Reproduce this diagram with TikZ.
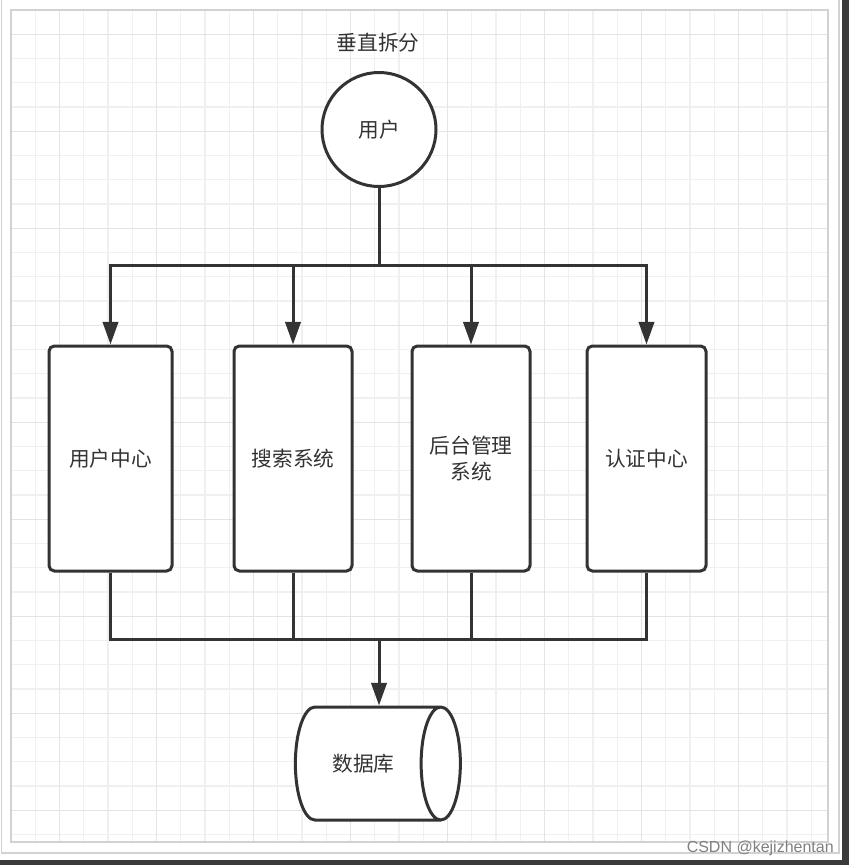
\documentclass[tikz,border=0pt]{standalone}
\usepackage{fontspec}
\setmainfont{Liberation Sans}
\newfontfamily\cjk{Noto Sans CJK SC}
\usetikzlibrary{arrows.meta,shapes.geometric}
\definecolor{linegray}{HTML}{333333}
\definecolor{txtgray}{HTML}{333333}
\definecolor{gridgray}{HTML}{F0F0F0}
\definecolor{gridmajor}{HTML}{E4E4E4}
\definecolor{bordergray}{HTML}{D2D2D2}
\definecolor{darkband}{HTML}{3A3A3A}
\tikzset{
	conn/.style={draw=linegray, line width=2.25pt},
	arr/.style={conn, -{Triangle[length=17pt,width=11.5pt]}},
	sysbox/.style={draw=linegray, line width=2.25pt, fill=white, rounded corners=4pt, minimum height=168.75pt, align=center}
}
\begin{document}
\begin{tikzpicture}[x=0.75pt,y=-0.75pt,every node/.style={font=\cjk\fontsize{15.5}{20}\selectfont, text=txtgray}]
	\useasboundingbox (0,0) rectangle (849,865);
	\fill[white] (0,0) rectangle (849,865);
	\fill[darkband] (842,0) rectangle (849,865);
	\fill[darkband] (0,860) rectangle (849,865);
	\draw[bordergray, line width=1.2pt] (1.5,0) -- (1.5,853) -- (839,853) -- (839,0);
	\foreach \i in {0,...,33}
		\draw[gridgray, line width=1.1pt] ({11+24.25*\i},10) -- ({11+24.25*\i},842);
	\foreach \j in {0,...,34}
		\draw[gridgray, line width=1.1pt] (11,{10+24.25*\j}) -- (828,{10+24.25*\j});
	\foreach \i in {2,6,...,30}
		\draw[gridmajor, line width=1.1pt] ({11+24.25*\i},10) -- ({11+24.25*\i},842);
	\foreach \j in {1,5,...,33}
		\draw[gridmajor, line width=1.1pt] (11,{10+24.25*\j}) -- (828,{10+24.25*\j});
	\draw[bordergray, line width=1.5pt] (11,10) rectangle (828,842);

	\node (title) at (378,43) {垂直拆分};
	\node[circle, draw=linegray, line width=2.25pt, fill=white, minimum size=85.5pt] (user) at (379,129.5) {用户};
	\node[sysbox, minimum width=92.25pt] (ucenter) at (110.5,458.5) {用户中心};
	\node[sysbox, minimum width=88.5pt] (search) at (293,458.5) {搜索系统};
	\node[sysbox, minimum width=88.5pt] (admin) at (471,458.5) {后台管理\\系统};
	\node[sysbox, minimum width=89.25pt] (auth) at (646.5,458.5) {认证中心};
	\node[cylinder, draw=linegray, line width=2.25pt, fill=white, shape aspect=1.4, minimum height=123.75pt, minimum width=84.75pt] (db) at (363.5,763.5) {数据库};

	\coordinate (split) at (379,265);
	\coordinate (merge) at (379,639);
	\draw[conn] (user) -- (split);
	\foreach \n in {ucenter,search,admin,auth}
		\draw[arr] (split) -| (\n.north);
	\foreach \n in {ucenter,search,admin,auth}
		\draw[conn] (\n.south) |- (merge);
	\draw[arr] (merge) -- (merge |- db.north);

	\node[font=\fontsize{12}{14}\selectfont, text=gray, inner sep=0pt, anchor=base east] (mark) at (834,852) {CSDN @kejizhentan};
\end{tikzpicture}
\end{document}
